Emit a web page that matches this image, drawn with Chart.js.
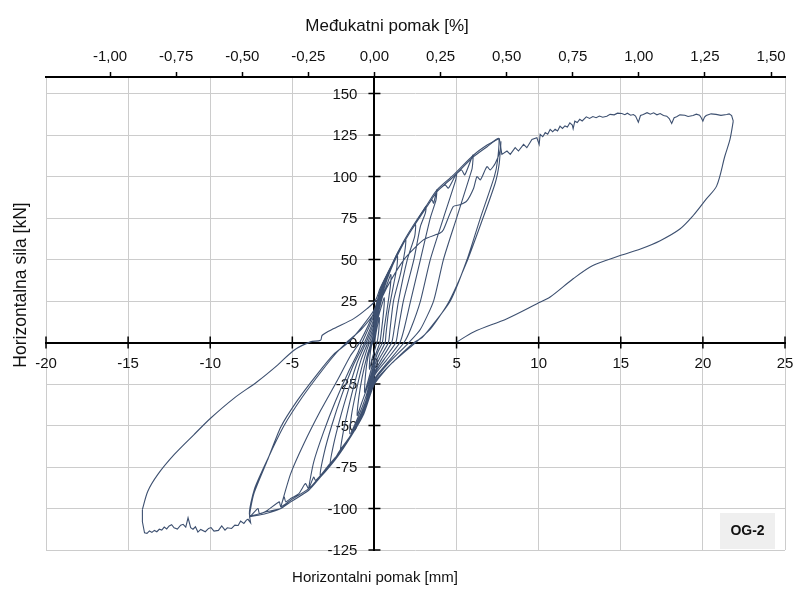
<!DOCTYPE html>
<html>
<head>
<meta charset="utf-8">
<script src="https://cdn.jsdelivr.net/npm/chart.js@4.4.1/dist/chart.umd.min.js"></script>
<style>
  html, body { margin: 0; padding: 0; background: #fff; }
  canvas { display: block; }
</style>
</head>
<body>
<canvas id="chart" width="793" height="589"></canvas>
<script>
'use strict';

// storey height used for the drift axis on top [mm]
const storeyHeight = 1610;

// cyclic part: small and medium loops (displacement mm / force kN)
const cycleDisp = [
  0,
  0.1, 0.2, 0.3, 0.27, 0.2, 0.15, 0, -0.15, -0.3, -0.27, -0.18, -0.1,
  0, 0.15, 0.4, 0.6, 0.57, 0.45, 0.33, 0.15, 0, -0.3, -0.6, -0.55, -0.4, -0.15,
  0, 0.2, 0.5, 0.8, 1.0, 0.97, 0.8, 0.6, 0.48, 0.2, 0, -0.4, -0.8, -1.05, -0.95, -0.75, -0.45, -0.2,
  0, 0.2, 0.6, 1.0, 1.4, 1.36, 1.15, 0.85, 0.7, 0.65, 0.3, 0, -0.5, -1.0, -1.5, -1.4, -1.15, -0.8, -0.45, -0.3,
  0, 0.25, 0.7, 1.3, 1.9, 1.85, 1.6, 1.16, 0.95, 0.85, 0.4, 0, -0.55, -1.3, -2.07, -1.9, -1.6, -1.2, -0.8, -0.4,
  0, 0.3, 0.8, 1.78, 2.2, 2.5, 2.45, 2.0, 1.46, 1.2, 1.05, 0.5, 0, -0.6, -1.46, -2.1, -2.7, -2.5, -2.1, -1.6, -1.05, -0.65, -0.5,
  0, 0.3, 0.97, 1.78, 2.39, 3.14, 3.1, 2.8, 2.4, 1.76, 1.45, 1.3, 0.6, 0, -0.65, -1.46, -2.27, -2.8, -3.3, -3.05, -2.6, -2.0, -1.3, -0.8, -0.6,
  0, 0.35, 0.97, 1.78, 2.39, 3.2, 3.5, 3.6, 3.8, 3.75, 3.4, 2.8, 2.2, 1.8, 1.55, 0.7, 0, -0.65, -1.46, -2.27, -3.28, -3.6, -3.7, -4.0, -3.7, -3.1, -2.4, -1.6, -1.0, -0.75,
  0, 0.36, 0.97, 1.78, 2.39, 3.2, 3.81, 4.3, 4.5, 5.0, 4.95, 4.2, 3.4, 2.8, 2.2, 1.8, 0.8, 0, -0.65, -1.46, -2.27, -3.28, -4.0, -4.2, -4.6, -5.1, -5.4, -5.5, -5.7, -5.1, -4.3, -3.28, -2.27, -1.46, -0.9,
  0, 0.36, 0.97, 1.78, 2.39, 3.2, 3.81, 4.82, 5.3, 5.5, 6.0, 5.95, 5.8, 5.0, 4.2, 3.6, 2.8, 2.1, 0.9, 0, -0.65, -1.46, -2.27, -3.28, -4.0, -5.1, -5.7, -5.8, -6.5, -7.0, -7.1, -7.6, -7.34, -6.52, -5.71, -4.7, -3.48, -2.47, -1.6,
  -0.8, 0, 0.36, 0.97, 1.78, 2.39, 3.2, 3.81, 4.82, 6.04, 6.86, 7.56, 7.5, 7.3, 6.45, 5.64, 4.62, 3.5, 2.9, 2.4, 1.0, 0, -0.65, -1.46, -2.27, -3.28, -4.0, -5.1, -5.7, -6.6, -7.6, -7.3, -6.4, -5.5, -4.4, -3.2, -2.3, -1.7,
  -0.8, 0, 0.8, 1.8, 3.0, 4.0, 4.2, 4.8, 5.2, 5.6, 6.04, 6.24, 6.45, 6.85, 7.05, 7.36, 7.66, 7.7, 7.6, 7.35, 6.5, 5.6, 4.5, 3.4, 2.5, 1.0, 0, -0.65, -1.46, -2.27, -3.28, -4.0, -5.1, -5.7, -6.6, -7.6
];
const cycleForce = [
  0,
  6, 11, 15, 8, 2, 0, -5, -10, -16, -8, -2, 0,
  4, 12, 21, 27, 20, 9, 0, -5, -9, -20, -30, -20, -9, 0,
  6, 16, 28, 36, 41, 34, 22, 9, 0, -6, -12, -26, -37, -44, -33, -21, -8, 0,
  7, 18, 33, 44, 52, 45, 34, 18, 5, 0, -7, -14, -32, -45, -55, -44, -31, -16, -4, 0,
  9, 22, 38, 52, 62, 55, 42, 25, 8, 0, -8, -16, -36, -53, -66, -54, -40, -24, -10, 0,
  11, 25, 40, 60, 67, 71, 64, 50, 25, 8, 0, -9, -18, -39, -56, -65, -74, -62, -46, -29, -12, -3, 0,
  13, 27, 44, 60, 70, 82, 78, 70, 50, 25, 8, 0, -10, -19, -41, -56, -68, -74, -80, -66, -50, -32, -14, -4, 0,
  15, 29, 44, 60, 70, 82, 86, 84, 92, 86, 75, 50, 25, 8, 0, -11, -20, -42, -56, -68, -80, -83, -81, -88, -72, -54, -36, -18, -6, 0,
  17, 31, 44, 60, 70, 82, 91, 95, 93, 102, 98, 75, 50, 25, 8, 0, -12, -22, -42, -56, -68, -80, -88, -85, -91, -94, -96, -93, -99, -79, -61, -41, -23, -8, 0,
  19, 32, 44, 60, 70, 82, 91, 100, 104, 101, 113, 105, 100, 75, 50, 25, 8, 0, -12, -23, -43, -57, -69, -81, -88, -95, -99, -96, -101, -103, -100, -105, -91, -71, -51, -35, -19, -7, 0,
  9, 20, 32, 45, 60, 70, 82, 91, 100, 112, 118, 123, 110, 100, 75, 50, 25, 10, 3, 0, -13, -24, -43, -57, -69, -81, -89, -96, -100, -102, -104, -88, -68, -50, -33, -17, -6, 0,
  8, 18, 34, 50, 62, 66, 68, 82, 83, 85, 93, 100, 98, 106, 104, 108, 116, 121, 108, 96, 72, 48, 24, 8, 0, -13, -25, -43, -57, -69, -81, -89, -96, -100, -103, -105
];

// last negative excursion, plateau down to -14 mm
const negRunDisp = [
  -7.6, -7.54, -7.7, -7.8, -7.95, -8.15, -8.3, -8.5, -8.7, -8.96, -9.1, -9.3, -9.5, -9.77, -9.95, -10.1, -10.3, -10.58, -10.75, -10.9,
  -11.05, -11.19, -11.35, -11.49, -11.65, -11.8, -12.0, -12.2, -12.35, -12.5, -12.65, -12.8, -12.95, -13.1, -13.25, -13.4, -13.55, -13.7, -13.85, -14.0,
  -14.13, -14.13
];
const negRunForce = [
  -105, -108.6, -106.5, -107, -109, -107.6, -110.2, -110, -112, -111.6, -113, -110.5, -113.2, -113.6, -111.5, -112, -114, -112.6, -114.2, -111,
  -112.5, -111.6, -105.6, -111.2, -109.5, -110, -112.4, -111.6, -109.8, -110.5, -112.3, -111.2, -113, -112.5, -114, -113.2, -114.4, -113.5, -115, -114.6,
  -108, -100.6
];

// unloading from -14 mm and reloading up to the previous peak
const reloadDisp = [-14.13, -13.8, -13.2, -12.2, -11.0, -9.98, -8.56, -7.14, -5.9, -4.9, -3.9, -3.28, -3.18, -2.47, -1.26, -0.45, 0.06, 0.36, 0.97, 1.78, 2.39, 3.2, 3.81, 4.82, 6.04, 6.86, 7.6];
const reloadForce = [-100.6, -89.6, -79.6, -67.6, -55.6, -45.6, -33.6, -23.6, -13.6, -4.6, 0.4, 1.4, 4.4, 8.4, 14.4, 20.4, 25.4, 33, 45, 61, 71, 83, 92, 101, 113, 119, 123];

// final push to 22 mm
const pushDisp = [
  7.6, 7.76, 8.07, 8.27, 8.57, 8.77, 9.08, 9.28, 9.59, 9.89, 10.03, 10.09, 10.25, 10.4, 10.55, 10.7, 10.85, 11.0, 11.15, 11.3,
  11.45, 11.6, 11.75, 11.9, 12.05, 12.1, 12.2, 12.35, 12.5, 12.65, 12.9, 13.1, 13.3, 13.5, 13.7, 13.9, 14.15, 14.35, 14.6, 14.8,
  15.06, 15.25, 15.4, 15.6, 15.77, 15.9, 16.07, 16.2, 16.37, 16.6, 16.8, 17.0, 17.2, 17.4, 17.6, 17.8, 17.95, 18.1, 18.25, 18.4,
  18.6, 18.9, 19.1, 19.4, 19.6, 19.8, 19.9, 20.0, 20.1, 20.2, 20.5, 20.8, 21.1, 21.45, 21.6, 21.75, 21.85
];
const pushForce = [
  123, 113.4, 115.4, 113.4, 117.4, 115.4, 119.4, 117.4, 122.4, 123.4, 119.4, 125.4, 124, 126.5, 125.5, 128.4, 127, 128.5, 127.5, 130.4,
  129, 130.5, 129.8, 132.4, 131, 128.8, 133.4, 132.6, 134.5, 133.5, 136, 135, 136.2, 135.5, 136.5, 135.8, 136.4, 137.5, 137.2, 138.2,
  138, 137.3, 138.2, 137, 137.4, 136.5, 132.8, 136.8, 137.4, 138.5, 137.6, 138.4, 137.2, 138, 136.8, 136.4, 135, 132, 135.5, 136,
  137.2, 137, 136.2, 136.8, 137.6, 137, 135.5, 133.4, 135.8, 136.8, 137.8, 137.5, 136.9, 137.4, 137.8, 136.8, 133.4
];

// final unloading
const unloadDisp = [21.85, 21.65, 21.34, 20.84, 20.2, 19.4, 18.6, 17.4, 16.2, 14.96, 13.3, 12.1, 10.7, 9.9, 8.07, 6.04, 5.03];
const unloadForce = [133.4, 122.4, 112.4, 94.4, 86.4, 76.4, 68.4, 61.4, 56.4, 52.4, 46.4, 38.4, 27.4, 23.4, 14.4, 6.4, 0.4];

const specimen = 'OG-2';
const lineColor = '#3d5070';
const fontFamily = '"Liberation Sans", Arial, sans-serif';

const toPoints = (xs, ys) => xs.map((x, i) => ({ x: x, y: ys[i] }));

function curve(xs, ys, tension) {
  return {
    data: toPoints(xs, ys),
    showLine: true,
    borderColor: lineColor,
    borderWidth: 1.1,
    pointRadius: 0,
    tension: tension
  };
}

const onStep = step => scale => {
  scale.ticks = scale.ticks.filter(t => Math.abs(t.value / step - Math.round(t.value / step)) < 1e-6);
};

const decorations = {
  id: 'decorations',
  beforeDatasetsDraw(chart) {
    const { ctx, scales: { x, y } } = chart;
    const x0 = x.getPixelForValue(0);
    const y0 = y.getPixelForValue(0);
    ctx.save();
    // tick marks crossing the centred axes
    ctx.strokeStyle = '#000';
    ctx.lineWidth = 1.5;
    ctx.beginPath();
    x.ticks.forEach(t => {
      const px = x.getPixelForValue(t.value);
      ctx.moveTo(px, y0 - 6);
      ctx.lineTo(px, y0 + 6);
    });
    y.ticks.forEach(t => {
      const py = y.getPixelForValue(t.value);
      ctx.moveTo(x0 - 6, py);
      ctx.lineTo(x0 + 6, py);
    });
    ctx.stroke();
    // y tick labels, left of the vertical axis
    ctx.fillStyle = '#111';
    ctx.font = '15px ' + fontFamily;
    ctx.textAlign = 'right';
    ctx.textBaseline = 'middle';
    y.ticks.forEach(t => {
      ctx.fillText(String(t.value), x0 - 17, y.getPixelForValue(t.value) + 1);
    });
    ctx.restore();
  },
  afterDraw(chart) {
    const { ctx, chartArea } = chart;
    ctx.save();
    ctx.fillStyle = '#111';
    ctx.textAlign = 'center';
    ctx.textBaseline = 'middle';
    ctx.font = '17px ' + fontFamily;
    ctx.fillText('Međukatni pomak [%]', 387, 26);
    ctx.font = '15px ' + fontFamily;
    ctx.fillText('Horizontalni pomak [mm]', 375, 578);
    ctx.save();
    ctx.translate(21, 285);
    ctx.rotate(-Math.PI / 2);
    ctx.font = '17.5px ' + fontFamily;
    ctx.fillText('Horizontalna sila [kN]', 0, 0);
    ctx.restore();

    // specimen label box
    ctx.fillStyle = '#efefef';
    ctx.fillRect(chartArea.right - 65, chartArea.bottom - 37, 55, 36);
    ctx.fillStyle = '#111';
    ctx.font = 'bold 14px ' + fontFamily;
    ctx.fillText(specimen, chartArea.right - 37.5, chartArea.bottom - 19);
    ctx.restore();
  }
};

const tickFont = { family: fontFamily, size: 15 };

new Chart(document.getElementById('chart'), {
  type: 'scatter',
  data: {
    datasets: [
      curve(cycleDisp, cycleForce, 0.2),
      curve(negRunDisp, negRunForce, 0),
      curve(reloadDisp, reloadForce, 0.3),
      curve(pushDisp, pushForce, 0),
      curve(unloadDisp, unloadForce, 0.3)
    ]
  },
  options: {
    responsive: false,
    animation: false,
    layout: { padding: { left: 46, right: 8, top: 0, bottom: 39 } },
    plugins: {
      legend: { display: false },
      tooltip: { enabled: false }
    },
    scales: {
      x: {
        type: 'linear',
        position: { y: 0 },
        min: -20,
        max: 25,
        afterFit: scale => { scale.paddingLeft = 0; scale.paddingRight = 0; },
        ticks: { stepSize: 5, padding: 12, color: '#111', font: tickFont, maxRotation: 0 },
        grid: { color: '#cccccc', lineWidth: 1, drawTicks: false },
        border: { color: '#000', width: 2 }
      },
      y: {
        type: 'linear',
        position: { x: 0 },
        min: -125,
        max: 160,
        afterBuildTicks: onStep(25),
        ticks: { stepSize: 25, includeBounds: false, display: false },
        grid: { color: '#cccccc', lineWidth: 1, drawTicks: false },
        border: { color: '#000', width: 2 }
      },
      x2: {
        type: 'linear',
        position: 'top',
        min: -20 / storeyHeight * 100,
        max: 25 / storeyHeight * 100,
        afterBuildTicks: onStep(0.25),
        afterFit: scale => {
          scale.height = 77;
          scale.paddingLeft = 0;
          scale.paddingRight = 0;
        },
        ticks: {
          stepSize: 0.25,
          includeBounds: false,
          padding: 6,
          color: '#111',
          font: tickFont,
          maxRotation: 0,
          callback: v => v.toFixed(2).replace('.', ',')
        },
        grid: { drawOnChartArea: false, tickLength: 5, tickColor: '#000', tickWidth: 1.5 },
        border: { color: '#000', width: 2 }
      }
    }
  },
  plugins: [decorations]
});
</script>
</body>
</html>
